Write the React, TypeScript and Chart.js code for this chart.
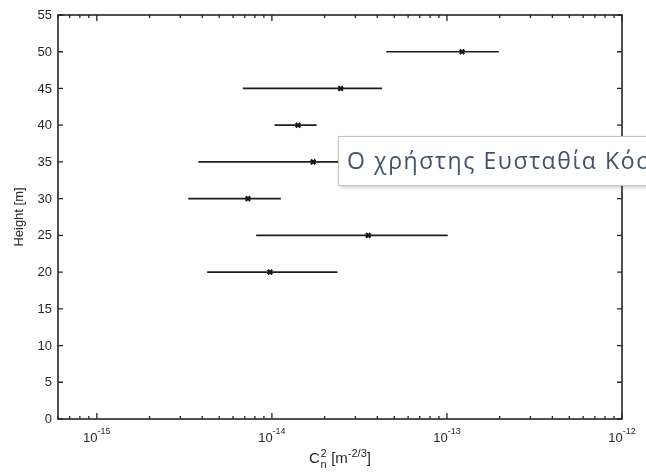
import React, { useEffect, useRef } from "react";
import { Chart, registerables } from "chart.js";

Chart.register(...registerables);

// Measurement heights and structure-parameter estimates (mean with min/max range)
const heights = [20, 25, 30, 35, 40, 45, 50];
const cn2Mean = [9.75e-15, 3.55e-14, 7.3e-15, 1.72e-14, 1.41e-14, 2.47e-14, 1.22e-13];
const cn2Low = [4.27e-15, 8.13e-15, 3.33e-15, 3.8e-15, 1.035e-14, 6.82e-15, 4.5e-14];
const cn2High = [2.37e-14, 1.01e-13, 1.125e-14, 3.06e-14, 1.8e-14, 4.26e-14, 1.98e-13];

// Axis ranges and tick labels
const xMin = 6e-16;
const xMax = 1e-12;
const xDecades = [-15, -14, -13, -12];
const yMin = 0;
const yMax = 55;
const yTicks = [0, 5, 10, 15, 20, 25, 30, 35, 40, 45, 50, 55];

const yTitle = "Height [m]";
const popupText = "Ο χρήστης Ευσταθία Κόσ";

const INK = "#262626";
const AXIS_FONT = '"Liberation Sans", Arial, sans-serif';

const framePlugin = {
  id: "matlabFrame",
  afterDraw(chart: any) {
    const { ctx, chartArea } = chart;
    const xs = chart.scales.x;
    const ys = chart.scales.y;
    const { left, right, top, bottom } = chartArea;

    ctx.save();
    // Box around the axes
    ctx.strokeStyle = INK;
    ctx.lineWidth = 1.6;
    ctx.strokeRect(left, top, right - left, bottom - top);

    // Inward ticks, y axis (left and right)
    ctx.lineWidth = 1.3;
    ctx.beginPath();
    for (const v of yTicks) {
      const py = ys.getPixelForValue(v);
      ctx.moveTo(left, py);
      ctx.lineTo(left + 5, py);
      ctx.moveTo(right, py);
      ctx.lineTo(right - 5, py);
    }
    ctx.stroke();

    // Inward ticks, log x axis (bottom and top), major and minor
    ctx.beginPath();
    for (let e = -16; e <= -12; e++) {
      for (let k = 1; k <= 9; k++) {
        const v = k * Math.pow(10, e);
        if (v < xMin * 0.999 || v > xMax * 1.001) continue;
        const px = xs.getPixelForValue(v);
        const len = k === 1 ? 6 : 3;
        ctx.moveTo(px, bottom);
        ctx.lineTo(px, bottom - len);
        ctx.moveTo(px, top);
        ctx.lineTo(px, top + len);
      }
    }
    ctx.stroke();

    // Y tick labels
    ctx.fillStyle = INK;
    ctx.font = `13px ${AXIS_FONT}`;
    ctx.textAlign = "right";
    ctx.textBaseline = "middle";
    for (const v of yTicks) {
      ctx.fillText(String(v), left - 6, ys.getPixelForValue(v) + 0.5);
    }

    // X tick labels: 10 with superscript exponent
    ctx.textBaseline = "alphabetic";
    ctx.textAlign = "left";
    for (const e of xDecades) {
      const px = xs.getPixelForValue(Math.pow(10, e));
      const base = "10";
      const exp = String(e);
      ctx.font = `13px ${AXIS_FONT}`;
      const wb = ctx.measureText(base).width;
      ctx.font = `9px ${AXIS_FONT}`;
      const we = ctx.measureText(exp).width;
      const x0 = px - (wb + we) / 2;
      ctx.font = `13px ${AXIS_FONT}`;
      ctx.fillText(base, x0, bottom + 22.5);
      ctx.font = `9px ${AXIS_FONT}`;
      ctx.fillText(exp, x0 + wb, bottom + 15);
    }

    // X axis title: C_n^2 [m^-2/3]
    {
      const cx = (left + right) / 2;
      const by = bottom + 44;
      ctx.font = `15px ${AXIS_FONT}`;
      const wC = ctx.measureText("C").width;
      const wMid = ctx.measureText(" [m").width;
      const wEnd = ctx.measureText("]").width;
      ctx.font = `11px ${AXIS_FONT}`;
      const wSub = Math.max(ctx.measureText("n").width, ctx.measureText("2").width);
      const wSup = ctx.measureText("-2/3").width;
      const total = wC + wSub + wMid + wSup + wEnd + 1;
      let x = cx - total / 2;
      ctx.font = `15px ${AXIS_FONT}`;
      ctx.fillText("C", x, by);
      x += wC;
      ctx.font = `11px ${AXIS_FONT}`;
      ctx.fillText("2", x + 0.5, by - 6);
      ctx.fillText("n", x + 0.5, by + 5);
      x += wSub + 1;
      ctx.font = `15px ${AXIS_FONT}`;
      ctx.fillText(" [m", x, by);
      x += wMid;
      ctx.font = `11px ${AXIS_FONT}`;
      ctx.fillText("-2/3", x, by - 6);
      x += wSup;
      ctx.font = `15px ${AXIS_FONT}`;
      ctx.fillText("]", x, by);
    }

    // Y axis title
    ctx.save();
    ctx.translate(23, (top + bottom) / 2);
    ctx.rotate(-Math.PI / 2);
    ctx.textAlign = "center";
    ctx.font = `13px ${AXIS_FONT}`;
    ctx.fillText(yTitle, 0, 0);
    ctx.restore();

    // Hover label box near the 35 m row
    {
      const cy = ys.getPixelForValue(35);
      const bx = 338.5;
      const by = Math.round(cy - 26) + 0.5;
      const bh = 49;
      ctx.save();
      ctx.shadowColor = "rgba(0,0,0,0.25)";
      ctx.shadowBlur = 4;
      ctx.shadowOffsetX = 1;
      ctx.shadowOffsetY = 1;
      ctx.fillStyle = "#ffffff";
      ctx.fillRect(bx, by, 400, bh);
      ctx.restore();
      ctx.strokeStyle = "#c4c4c4";
      ctx.lineWidth = 1;
      ctx.strokeRect(bx, by, 400, bh);
      ctx.fillStyle = "#44526a";
      ctx.font = '23px "Open Sans", "Noto Sans", sans-serif';
      (ctx as any).letterSpacing = "1.6px";
      ctx.textAlign = "left";
      ctx.textBaseline = "alphabetic";
      ctx.fillText(popupText, 347, by + 32);
      (ctx as any).letterSpacing = "0px";
    }
    ctx.restore();
  },
};

export default function App() {
  const canvasRef = useRef<HTMLCanvasElement | null>(null);

  useEffect(() => {
    if (!canvasRef.current) return;

    const errorBars = heights.map((h, i) => ({
      type: "line" as const,
      data: [
        { x: cn2Low[i], y: h },
        { x: cn2High[i], y: h },
      ],
      borderColor: "#1e1e1e",
      borderWidth: 1.7,
      pointRadius: 0,
      fill: false,
    }));

    const means = {
      type: "scatter" as const,
      data: heights.map((h, i) => ({ x: cn2Mean[i], y: h })),
      pointStyle: "crossRot",
      pointRadius: 3.2,
      borderColor: "#111111",
      backgroundColor: "#111111",
      pointBorderWidth: 2.2,
      borderWidth: 2.2,
      showLine: false,
    };

    const chart = new Chart(canvasRef.current, {
      type: "scatter",
      data: { datasets: [...errorBars, means] as any },
      options: {
        animation: false,
        responsive: false,
        devicePixelRatio: 1,
        layout: { padding: { left: 58, top: 15, right: 24, bottom: 54 } },
        plugins: { legend: { display: false }, tooltip: { enabled: false } },
        scales: {
          x: { type: "logarithmic", min: xMin, max: xMax, display: false },
          y: { type: "linear", min: yMin, max: yMax, display: false },
        },
      },
      plugins: [framePlugin],
    });

    return () => chart.destroy();
  }, []);

  return (
    <div style={{ position: "absolute", left: 0, top: 0, width: 646, height: 473, background: "#fff" }}>
      <canvas ref={canvasRef} width={646} height={473} style={{ display: "block" }} />
    </div>
  );
}
